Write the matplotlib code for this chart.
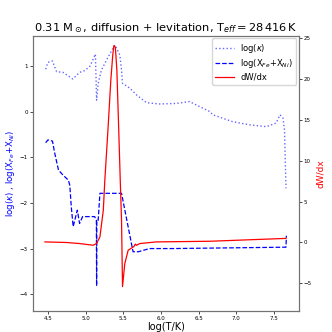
import matplotlib
matplotlib.use('Agg')
import matplotlib.pyplot as plt

# log(kappa) curve
logT_k = [4.47, 4.50, 4.56, 4.615, 4.70, 4.83, 4.92, 4.99, 5.06, 5.13, 5.146, 5.167,
          5.21, 5.30, 5.39, 5.455, 5.477, 5.49, 5.59, 5.68, 5.81, 5.985, 6.21, 6.38,
          6.47, 6.65, 6.69, 6.95, 7.18, 7.40, 7.53, 7.58, 7.62, 7.64, 7.66]
logkap = [0.93, 1.08, 1.11, 0.875, 0.86, 0.715, 0.86, 0.90, 1.0, 1.26, 0.25, 0.62,
          0.91, 1.20, 1.46, 1.24, 0.91, 0.62, 0.51, 0.36, 0.195, 0.167, 0.18, 0.22,
          0.145, 0.0, -0.07, -0.22, -0.29, -0.33, -0.25, -0.07, -0.14, -0.40, -1.68]

# log(X_Fe + X_Ni)
logT_x = [4.47, 4.50, 4.56, 4.59, 4.64, 4.70, 4.77, 4.79, 4.81, 4.835, 4.89, 4.92,
          4.96, 4.99, 5.12, 5.143, 5.146, 5.149, 5.167, 5.19, 5.455, 5.477, 5.63,
          5.70, 5.85, 6.16, 7.66, 7.665]
logX = [-0.68, -0.62, -0.645, -0.91, -1.28, -1.39, -1.50, -1.61, -2.09, -2.52, -2.16,
        -2.45, -2.30, -2.30, -2.30, -2.38, -3.82, -2.38, -2.38, -1.79, -1.79, -1.79,
        -3.07, -3.07, -3.00, -3.00, -2.97, -2.72]

# dW/dx
logT_w = [4.46, 4.745, 4.92, 5.10, 5.145, 5.19, 5.235, 5.255, 5.296, 5.335, 5.36,
          5.375, 5.395, 5.415, 5.44, 5.46, 5.477, 5.49, 5.52, 5.565, 5.64, 5.66,
          5.675, 5.72, 5.94, 6.65, 7.66]
dWdx = [0.07, 0.0, -0.13, -0.34, -0.13, 0.68, 3.95, 7.6, 13.7, 19.9, 22.9,
        24.1, 23.9, 21.1, 13.7, 7.6, 2.7, -5.4, -2.6, -0.95, -0.5, -0.2,
        -0.34, -0.13, 0.07, 0.15, 0.5]

fig = plt.figure(figsize=(3.32, 3.32), dpi=100)
ax = fig.add_axes([0.099, 0.063, 0.801, 0.829])
ax2 = ax.twinx()

l1, = ax.plot(logT_k, logkap, ':', color='blue', alpha=0.6, lw=1.0, label=r'log($\kappa$)')
l2, = ax.plot(logT_x, logX, '--', color='blue', lw=0.9, label=r'log(X$_{Fe}$+X$_{Ni}$)')
l3, = ax2.plot(logT_w, dWdx, '-', color='red', lw=0.9, label='dW/dx')

ax.set_xlim(4.30, 7.83)
ax.set_ylim(-4.37, 1.66)
ax2.set_ylim(-8.4, 25.3)
ax.set_xticks([4.5, 5.0, 5.5, 6.0, 6.5, 7.0, 7.5])
ax.set_yticks([-4, -3, -2, -1, 0, 1])
ax2.set_yticks([-5, 0, 5, 10, 15, 20, 25])

for a in (ax, ax2):
    a.tick_params(labelsize=4, length=2, width=0.5, pad=1.5)
    for s in a.spines.values():
        s.set_color('0.45')

ax.set_xlabel('log(T/K)', fontsize=7, labelpad=1)
ax.set_ylabel(r'log($\kappa$) , log(X$_{Fe}$+X$_{Ni}$)', fontsize=6.2, color='blue', labelpad=2)
ax2.set_ylabel('dW/dx', fontsize=6.5, color='red', labelpad=3)

ax.set_title(r'0.31 M$_\odot$, diffusion + levitation, T$_{eff}=28\,416\,$K', fontsize=8.2, pad=3)

ax.legend(handles=[l1, l2, l3], loc='upper right', fontsize=6, handlelength=2.2,
          borderaxespad=0.3, labelspacing=0.3)

fig.savefig('out.png', dpi=100)
